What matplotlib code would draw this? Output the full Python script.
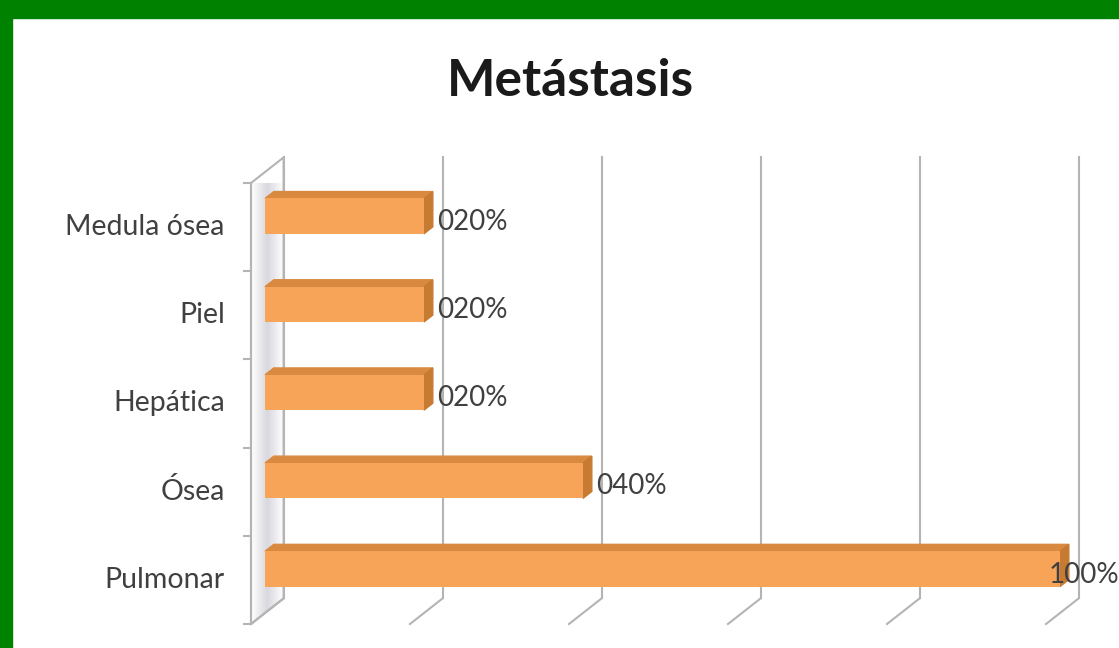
import matplotlib
matplotlib.use("Agg")
import numpy as np
import matplotlib.pyplot as plt
from matplotlib.patches import Polygon, Rectangle
from matplotlib.colors import LinearSegmentedColormap

# data (bottom to top)
categories = ["Pulmonar", "Ósea", "Hepática", "Piel", "Medula ósea"]
values = [100, 40, 20, 20, 20]
value_labels = ["100%", "040%", "020%", "020%", "020%"]
grid_ticks = [0, 20, 40, 60, 80, 100]

plt.rcParams['font.family'] = ['Lato', 'DejaVu Sans']

fig = plt.figure(figsize=(11.19, 6.48), dpi=100)
fig.patch.set_facecolor("white")

# green frame (top and left)
fig.patches.append(Rectangle((0, 1 - 18 / 648), 1, 18 / 648, transform=fig.transFigure,
                             color="#008200", zorder=0))
fig.patches.append(Rectangle((0, 0), 12 / 1119, 1, transform=fig.transFigure,
                             color="#008200", zorder=0))

ax = fig.add_axes([251 / 1119, 24 / 648, 795 / 1119, 441 / 648])
ax.set_xlim(0, 100)
ax.set_ylim(-0.5, len(categories) - 0.5)
ax.axis("off")

# oblique depth of the 3d box, in data units
DX, DY = 4.1, 0.29
f1, f2 = 0.43, 0.70   # bar front / back depth
h = 0.4
top = len(categories) - 0.5
grid_col = "#b4b4b4"

# left wall with a soft grey shading
wall = Polygon([(0, -0.5), (0, top), (DX, top + DY), (DX, -0.5 + DY)],
               closed=True, facecolor="none", edgecolor=grid_col, lw=1.5,
               clip_on=False, zorder=2)
ax.add_patch(wall)
shade = LinearSegmentedColormap.from_list("wall", ["#ffffff", "#d8d8de", "#ffffff"])
img = ax.imshow(np.linspace(0, 1, 50).reshape(1, -1), cmap=shade, aspect="auto",
                extent=(0, DX, -0.5, top + DY), zorder=1, interpolation="bilinear")
img.set_clip_path(wall)
ax.set_xlim(0, 100)
ax.set_ylim(-0.5, len(categories) - 0.5)

ax.plot([0, 0], [-0.5, top], color=grid_col, lw=1.5, clip_on=False, zorder=2)
for b in range(len(categories) + 1):
    ax.plot([-0.9, 0], [b - 0.5, b - 0.5], color=grid_col, lw=1.5, clip_on=False, zorder=2)

# back wall gridlines + floor slants
for g in grid_ticks:
    ax.plot([g + DX, g + DX], [-0.5 + DY, top + DY], color=grid_col, lw=1.5,
            clip_on=False, zorder=1)
    ax.plot([g + DX, g], [-0.5 + DY, -0.5], color=grid_col, lw=1.5,
            clip_on=False, zorder=1)

# bars
front_col, top_col, side_col = "#f8a458", "#d98a40", "#c77a32"
for i, v in enumerate(values):
    y0 = i + f1 * DY
    ax.barh(y0, v, left=f1 * DX, height=h, color=front_col, zorder=4, clip_on=False)
    ax.add_patch(Polygon([(f1 * DX, y0 + h / 2), (v + f1 * DX, y0 + h / 2),
                          (v + f2 * DX, y0 + h / 2 + (f2 - f1) * DY),
                          (f2 * DX, y0 + h / 2 + (f2 - f1) * DY)],
                         closed=True, color=top_col, zorder=3, clip_on=False))
    ax.add_patch(Polygon([(v + f1 * DX, y0 - h / 2), (v + f1 * DX, y0 + h / 2),
                          (v + f2 * DX, y0 + h / 2 + (f2 - f1) * DY),
                          (v + f2 * DX, y0 - h / 2 + (f2 - f1) * DY)],
                         closed=True, color=side_col, zorder=3, clip_on=False))
    lx = min(v + f2 * DX + 0.6, 100.3)
    ax.text(lx, i + 0.06, value_labels[i], ha="left", va="center",
            fontsize=20, color="#404040", zorder=6, clip_on=False)

# category labels
for i, c in enumerate(categories):
    ax.text(-3.3, i, c, ha="right", va="center", fontsize=20.5, color="#404040")

fig.text(570 / 1119, 1 - 82 / 648, "Metástasis", ha="center", va="center",
         fontsize=37, fontweight="bold", color="#1a1a1a")

fig.savefig("out.png", dpi=100)
